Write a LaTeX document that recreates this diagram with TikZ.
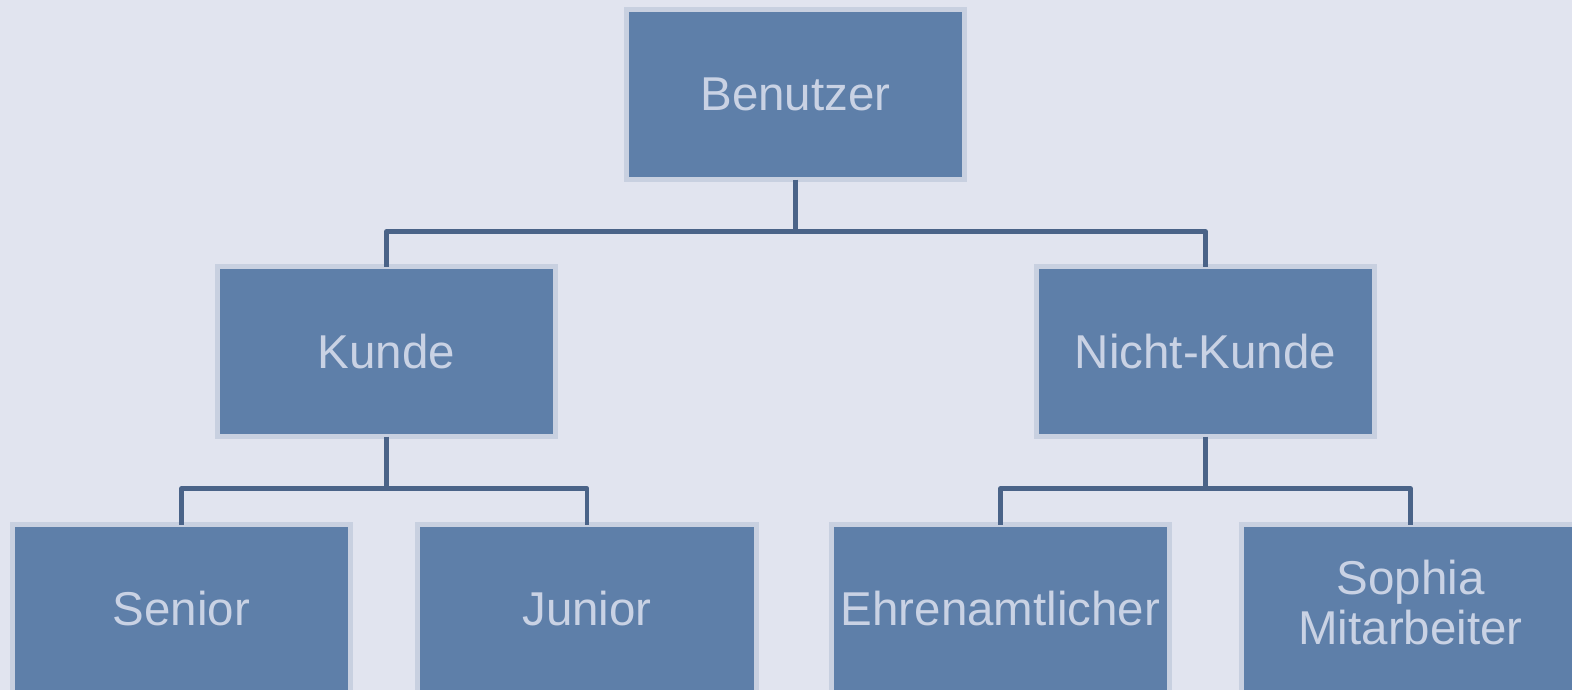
\documentclass[tikz,border=0pt]{standalone}
\usepackage{fontspec}
\setmainfont{Liberation Sans}
\definecolor{bg}{HTML}{E1E4EF}
\definecolor{boxfill}{HTML}{5E7FA9}
\definecolor{boxline}{HTML}{C8D0E0}
\definecolor{boxtext}{HTML}{C9D2E4}
\definecolor{conn}{HTML}{4A6388}
\begin{document}
\begin{tikzpicture}[x=1pt,y=-1pt,
  orgbox/.style={draw=boxline, fill=boxfill, line width=5pt, minimum width=338.5pt, minimum height=170pt,
    inner sep=0pt, outer sep=0pt, align=center, text=boxtext, font=\fontsize{47.5}{50}\selectfont},
  lowbox/.style={orgbox, text depth=6pt},
  conline/.style={draw=conn, line width=4.5pt, line join=round}]
\useasboundingbox (0,0) rectangle (1572,689);
\fill[bg] (-6,-6) rectangle (1578,695);
\node[orgbox] (B) at (795.5,94.5) {Benutzer};
\node[orgbox] (K) at (386.5,351.5) {Kunde};
\node[orgbox] (NK) at (1205.5,351.5) {Nicht-Kunde};
\node[orgbox] (S) at (181.5,609.5) {\raisebox{3pt}{Senior}};
\node[orgbox] (J) at (587,609.5) {\raisebox{3pt}{Junior}};
\node[orgbox] (E) at (1000.5,609.5) {\raisebox{3pt}{Ehrenamtlicher}};
\node[orgbox] (SM) at (1410.5,609.5) {\raisebox{3pt}{\begin{tabular}{@{}c@{}}Sophia\\Mitarbeiter\end{tabular}}};
\coordinate (b1) at (795.5,231.5);
\coordinate (k1) at (386.5,488.5);
\coordinate (n1) at (1205.5,488.5);
\draw[conline] (B.south) -- (b1) -| (K.north);
\draw[conline] (b1) -| (NK.north);
\draw[conline] (K.south) -- (k1) -| (S.north);
\draw[conline] (k1) -| (J.north);
\draw[conline] (NK.south) -- (n1) -| (E.north);
\draw[conline] (n1) -| (SM.north);
\end{tikzpicture}
\end{document}
